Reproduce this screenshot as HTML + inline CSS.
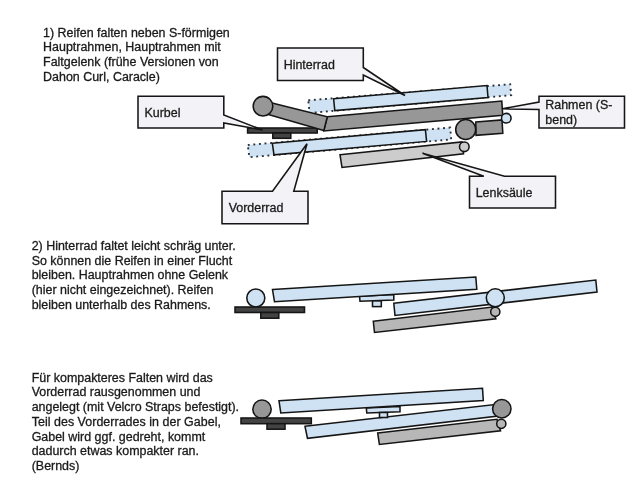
<!DOCTYPE html>
<html>
<head>
<meta charset="utf-8">
<style>
html,body{margin:0;padding:0;background:#fff;}
body{width:640px;height:480px;overflow:hidden;position:relative;font-family:"Liberation Sans",sans-serif;}
svg{position:absolute;left:0;top:0;will-change:transform;}
text{font-family:"Liberation Sans",sans-serif;font-size:12.45px;fill:#1a1a1a;stroke:#1a1a1a;stroke-width:0.3px;}
.s{stroke:#151515;stroke-width:1.55;stroke-linejoin:miter;}
.bl{fill:#cfe2f3;}
.dg{fill:#979797;}
.lg{fill:#cccccc;}
.mg{fill:#b7b7b7;}
.bk{fill:#434343;}
.co{fill:#f3f3f7;}
.dot{fill:#cfe2f3;stroke:#2b3038;stroke-width:1.9;stroke-dasharray:1.9 3.7;}
</style>
</head>
<body>
<svg width="640" height="480" viewBox="0 0 640 480">
<rect width="640" height="480" fill="#ffffff"/>

<!-- ===== Section 1 text ===== -->
<text x="43.1" y="36.7">1) Reifen falten neben S-förmigen</text>
<text x="43.1" y="51.4">Hauptrahmen, Hauptrahmen mit</text>
<text x="43.1" y="66.1">Faltgelenk (frühe Versionen von</text>
<text x="43.1" y="80.8">Dahon Curl, Caracle)</text>

<!-- ===== Section 1 drawing ===== -->
<!-- rear wheel dotted + solid -->
<polygon class="dot" points="308.3,100.3 510.2,84.3 511.2,95.2 309.6,113"/>
<polygon class="s bl" points="333.6,98.8 487,85.5 488,97.5 334.8,110.6"/>
<!-- front wheel dotted + solid -->
<polygon class="dot" points="247.8,145 450.2,127.6 451.2,139.4 249.3,157.2"/>
<polygon class="s bl" points="272.3,143.2 425.4,129.7 426.6,141.4 274,154.8"/>
<!-- steerer column -->
<polygon class="s lg" points="340,154.7 462,141.9 463.5,153.8 342,167.5"/>
<circle class="s lg" cx="464.3" cy="146.8" r="4.8"/>
<!-- crank arm -->
<!-- main frame -->
<polygon class="s dg" points="327.3,116.7 501.8,101.1 502.7,115.3 323.8,130.9"/>
<!-- stub + hinge -->
<polygon class="s dg" points="475.8,122 502,119.9 502.8,133.3 476,135.3"/>
<circle class="s dg" cx="465.7" cy="129.5" r="10"/>
<circle class="s bl" cx="506.3" cy="118.2" r="4.8"/>
<!-- pedal -->
<rect class="s bk" x="247.6" y="128" width="69.6" height="5"/>
<rect class="s bk" x="272.8" y="133" width="18" height="5.3"/>
<!-- crank arm -->
<polygon class="s dg" points="265,101.2 327.3,116.7 323.8,130.6 263,113"/>
<circle class="s dg" cx="263" cy="106.2" r="9.8"/>

<!-- callouts -->
<polygon class="s co" points="277.5,48 363.3,48 363.3,67.5 405,95.5 363.3,75 363.3,80.5 277.5,80.5"/>
<text x="283.7" y="68.7">Hinterrad</text>
<polygon class="s co" points="138,96.3 223.8,96.3 223.8,115 262.5,130 223.8,123 223.8,128 138,128"/>
<text x="144.5" y="117">Kurbel</text>
<polygon class="s co" points="222,191.3 272.5,191.3 307,143.8 293.8,191.3 308,191.3 308,223.8 222,223.8"/>
<text x="228.7" y="212">Vorderrad</text>
<polygon class="s co" points="539,96.3 624.5,96.3 624.5,128 539,128 539,109.5 502.5,108.8 539,102"/>
<text x="545.3" y="109.2">Rahmen (S-</text>
<text x="545.3" y="124.2">bend)</text>
<polygon class="s co" points="469.5,176.3 483.8,176.3 422.5,153.3 504.5,176.3 555.5,176.3 555.5,208 469.5,208"/>
<text x="475.7" y="196.7">Lenksäule</text>

<!-- ===== Section 2 text ===== -->
<text x="31.7" y="250">2) Hinterrad faltet leicht schräg unter.</text>
<text x="31.7" y="264.7">So können die Reifen in einer Flucht</text>
<text x="31.7" y="279.4">bleiben. Hauptrahmen ohne Gelenk</text>
<text x="31.7" y="294.1">(hier nicht eingezeichnet). Reifen</text>
<text x="31.7" y="308.8">bleiben unterhalb des Rahmens.</text>

<!-- ===== Section 2 drawing ===== -->
<polygon class="s mg" points="373.3,321.3 492.5,307 495.8,318.8 374.5,332.5"/>
<circle class="s mg" cx="495.3" cy="311.8" r="4.6"/>
<polygon class="s bl" points="393.8,303.3 595.8,280 597,292 395,315.5"/>
<circle class="s bl" cx="495.3" cy="297.8" r="9"/>
<polygon class="s bl" points="359.5,296.3 393.8,294.5 393.8,300 360,301.3"/>
<rect class="s bl" x="372.5" y="300.9" width="8.8" height="5.7"/>
<polygon class="s bl" points="272.5,289.5 475.8,277 476.8,289.3 274.5,301.8"/>
<circle class="s bl" cx="255.8" cy="298" r="9"/>
<rect class="s bk" x="235" y="307" width="69.5" height="5.5"/>
<rect class="s bk" x="260.8" y="312.5" width="18" height="5.7"/>

<!-- ===== Section 3 text ===== -->
<text x="31.7" y="381.5">Für kompakteres Falten wird das</text>
<text x="31.7" y="396.25">Vorderrad rausgenommen und</text>
<text x="31.7" y="411">angelegt (mit Velcro Straps befestigt).</text>
<text x="31.7" y="425.75" textLength="189.2">Teil des Vorderrades in der Gabel,</text>
<text x="31.7" y="440.5">Gabel wird ggf. gedreht, kommt</text>
<text x="31.7" y="455.25">dadurch etwas kompakter ran.</text>
<text x="31.7" y="470">(Bernds)</text>

<!-- ===== Section 3 drawing ===== -->
<polygon class="s mg" points="377.7,433 497,419.3 500.5,430.8 379.4,444.5"/>
<circle class="s mg" cx="501.3" cy="423.8" r="4.6"/>
<polygon class="s bl" points="305,426.3 495,404.5 496,416.3 307.5,438.3"/>
<circle class="s dg" cx="501.8" cy="408.8" r="9.2"/>
<polygon class="s bl" points="366.3,408 400,406.5 400,411.8 366.8,413"/>
<rect class="s bl" x="379.5" y="412.5" width="8" height="5"/>
<polygon class="s bl" points="279,400.8 482.5,388.3 483.3,400.5 280.8,413"/>
<circle class="s dg" cx="262" cy="409.3" r="9.2"/>
<rect class="s bk" x="241" y="418" width="70.3" height="5.7"/>
<rect class="s bk" x="267" y="423.7" width="18" height="5.5"/>
</svg>
</body>
</html>
